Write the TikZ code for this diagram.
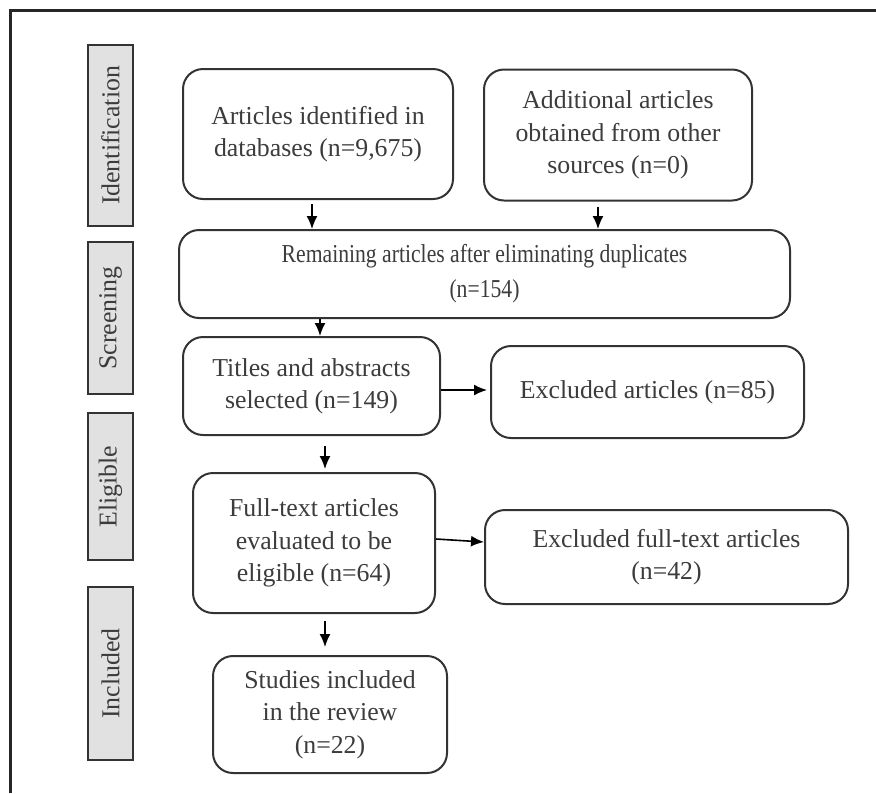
\documentclass[tikz,border=0pt]{standalone}
\usepackage{fontspec}
\setmainfont{Liberation Serif}
\newfontfamily\narrowserif[FakeStretch=0.84]{Liberation Serif}
\usepackage{xcolor}
\usetikzlibrary{arrows.meta}
\definecolor{textgray}{HTML}{3C3C3C}
\definecolor{linegray}{HTML}{333333}
\definecolor{phasegray}{HTML}{E1E1E1}

\begin{document}
\begin{tikzpicture}[
  x=0.5pt, y=-0.5pt,
  box/.style={rectangle, rounded corners=10pt, draw=linegray, line width=1pt,
              fill=white, text=textgray, align=center, inner sep=0pt,
              font=\fontsize{12.9}{16.2}\selectfont},
  phase/.style={rectangle, draw=linegray, line width=1pt, fill=phasegray,
                rotate=90, text=textgray, inner sep=0pt,
                minimum height=22.5pt, font=\fontsize{12.9}{16}\selectfont},
  arr/.style={-{Latex[length=6.5pt, width=5.5pt]}, line width=0.8pt, draw=black}
]
\useasboundingbox (0,0) rectangle (876,793);
% outer frame (only top and left edges show)
\draw[line width=1.5pt, black!85] (876,10) -- (10,10) -- (10,793);

% phase labels
\node[phase, minimum width=90.5pt] (idph) at (110.5,135.5) {Identification};
\node[phase, minimum width=76pt]   (scph) at (110.5,318)   {Screening};
\node[phase, minimum width=73.5pt] (elph) at (110.5,486.5) {Eligible};
\node[phase, minimum width=86.5pt] (inph) at (110.5,673.5) {Included};

% flow boxes
\node[box, minimum width=135pt, minimum height=65pt]   (db)     at (318,134)   {Articles identified in\\databases (n=9,675)};
\node[box, minimum width=134pt, minimum height=65.5pt] (other)  at (618,135)   {Additional articles\\obtained from other\\sources (n=0)};
\node[box, minimum width=305.5pt, minimum height=44pt, font=\narrowserif\fontsize{12.9}{17.5}\selectfont]
                                                       (dedup)  at (484.5,274) {Remaining articles after eliminating duplicates\\(n=154)};
\node[box, minimum width=128.5pt, minimum height=49pt] (screen) at (311.5,386) {Titles and abstracts\\selected (n=149)};
\node[box, minimum width=156.5pt, minimum height=46pt] (excla)  at (647.5,392) {Excluded articles (n=85)};
\node[box, minimum width=121pt, minimum height=70pt]   (full)   at (314,543)   {Full-text articles\\evaluated to be\\eligible (n=64)};
\node[box, minimum width=181.5pt, minimum height=47pt] (exclb)  at (666.5,557) {Excluded full-text articles\\(n=42)};
\node[box, minimum width=117pt, minimum height=58.5pt] (incl)   at (330,714.5) {Studies included\\in the review\\(n=22)};

% connectors
\draw[arr, shorten <=2pt] ([xshift=-3pt]db.south)     -- ([xshift=-3pt]db.south |- dedup.north);
\draw[arr, shorten <=2.5pt] ([xshift=-10pt]other.south) -- ([xshift=-10pt]other.south |- dedup.north);
\draw[arr] ([xshift=4.25pt]screen.north |- dedup.south) -- ([xshift=4.25pt]screen.north);
\draw[arr, shorten <=5pt, shorten >=1.5pt] ([xshift=6.75pt]screen.south) -- ([xshift=6.75pt]screen.south |- full.north);
\draw[arr, shorten <=3.5pt, shorten >=4pt] ([xshift=5.5pt]full.south) -- ([xshift=5.5pt]full.south |- incl.north);
\draw[arr, shorten >=1.5pt] ([yshift=-2pt]screen.east) -- ([yshift=-2pt]screen.east -| excla.west);
\draw[arr] ([yshift=2pt]full.east) -- ([yshift=7.5pt]exclb.west);
\end{tikzpicture}
\end{document}
